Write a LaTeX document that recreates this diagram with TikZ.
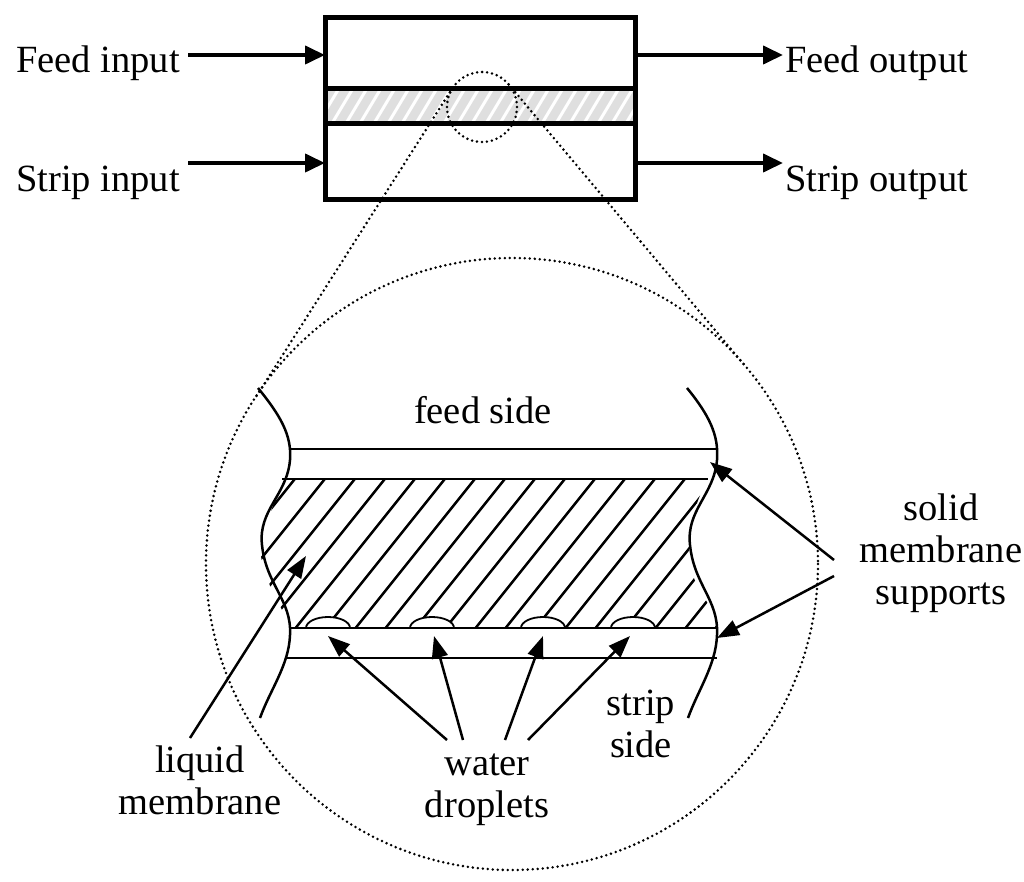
\documentclass[tikz,border=0pt]{standalone}
\usepackage{fontspec}
\setmainfont{Liberation Serif}
\usetikzlibrary{arrows.meta}
\begin{document}
\begin{tikzpicture}[x=1pt,y=-1pt,
  lbl/.style={font=\fontsize{38.5}{42}\selectfont,inner sep=0pt,align=center},
  bigarr/.style={line width=4pt,-{Triangle[length=20pt,width=18pt]}},
  thinarr/.style={line width=2.5pt,-{Triangle[length=22pt,width=16pt]}},
  dots/.style={line width=2.8pt,dash pattern=on 0pt off 5pt,line cap=round},
  ln/.style={line width=2.5pt}]
\useasboundingbox (0,0) rectangle (1024,882);
% top box
\fill[gray!25] (323,89) rectangle (633,124);
\begin{scope}
\clip (323,89) rectangle (633,124);
\foreach \i in {0,...,30}{\draw[white,line width=3pt] (300+\i*14,130) -- (330+\i*14,80);}
\end{scope}
\node[draw,line width=5pt,minimum width=310pt,minimum height=182pt,anchor=north west] (box) at (323,15) {};
\draw[line width=5pt] (323,89) -- (633,89) (323,124) -- (633,124);
\node[lbl,anchor=east] (fi) at (180,63) {Feed input};
\node[lbl,anchor=east] (si) at (180,183) {Strip input};
\node[lbl,anchor=west] (fo) at (785,63) {Feed output};
\node[lbl,anchor=west] (so) at (785,183) {Strip output};
\coordinate (fiA) at (188,55); \coordinate (fiB) at (325,55);
\coordinate (siA) at (188,163); \coordinate (siB) at (325,163);
\coordinate (foA) at (633,55); \coordinate (foB) at (783,55);
\coordinate (soA) at (633,163); \coordinate (soB) at (783,163);
\draw[bigarr] (fiA) -- (fiB);
\draw[bigarr] (siA) -- (siB);
\draw[bigarr] (foA) -- (foB);
\draw[bigarr] (soA) -- (soB);
% magnifier
\draw[dots] (482,107) circle (35);
\draw[dots] (512,564) circle (306);
\coordinate (t1) at (452.5,88); \coordinate (t2) at (254,400);
\coordinate (t3) at (508.8,84.5); \coordinate (t4) at (746,367);
\draw[dots] (t1) -- (t2);
\draw[dots] (t3) -- (t4);
% hatch region
\begin{scope}
\clip (282,479) -- (708,479) .. controls (690,510) and (680,560) .. (700,590) .. controls (712,610) and (716,620) .. (717,628) -- (290,628) .. controls (280,600) and (255,570) .. (262,540) .. controls (268,515) and (278,495) .. (282,479) -- cycle;
\foreach \i in {0,...,22}{\draw[ln] (120+\i*30,660) -- (280+\i*30,460);}
\end{scope}
% droplets
\foreach \x in {328,432,543,633}{\fill[white] (\x-22,628) arc (180:360:22 and 11); \draw[line width=1.8pt] (\x-22,628) arc (180:360:22 and 11);}
% lines
\draw[ln] (290,449) -- (717,449);
\draw[ln] (282,479) -- (708,479);
\draw[ln] (290,628) -- (717,628);
\draw[ln] (285,658) -- (717,658);
% wavy sides
\draw[ln] (258,388) .. controls (280,415) and (292,435) .. (290,460) .. controls (287,495) and (258,510) .. (262,545) .. controls (266,585) and (292,600) .. (290,635) .. controls (289,665) and (270,690) .. (260,718);
\draw[ln] (687,388) .. controls (709,415) and (719,435) .. (717,460) .. controls (714,495) and (686,510) .. (690,545) .. controls (694,585) and (719,600) .. (717,635) .. controls (716,665) and (698,690) .. (688,718);
% labels lower
\node[lbl] (fs) at (483,410) {feed side};
\node[lbl] (ss) at (641,724) {strip\\side};
\node[lbl] (lm) at (200,780) {liquid\\membrane};
\node[lbl] (wd) at (487,790) {water\\droplets};
\node[lbl] (sm) at (941,553) {solid\\membrane\\supports};
% arrows
\coordinate (lmA) at (190,738); \coordinate (lmB) at (306,556);
\draw[thinarr] (lmA) -- (lmB);
\coordinate (w1) at (447,740); \coordinate (w2) at (463,740); \coordinate (w3) at (505,740); \coordinate (w4) at (528,740);
\coordinate (d1) at (328,636); \coordinate (d2) at (434,636); \coordinate (d3) at (543,636); \coordinate (d4) at (630,636);
\draw[thinarr] (w1) -- (d1);
\draw[thinarr] (w2) -- (d2);
\draw[thinarr] (w3) -- (d3);
\draw[thinarr] (w4) -- (d4);
\coordinate (s1) at (834,560); \coordinate (s2) at (834,576);
\coordinate (m1) at (710,462); \coordinate (m2) at (717,638);
\draw[thinarr] (s1) -- (m1);
\draw[thinarr] (s2) -- (m2);
\end{tikzpicture}
\end{document}
